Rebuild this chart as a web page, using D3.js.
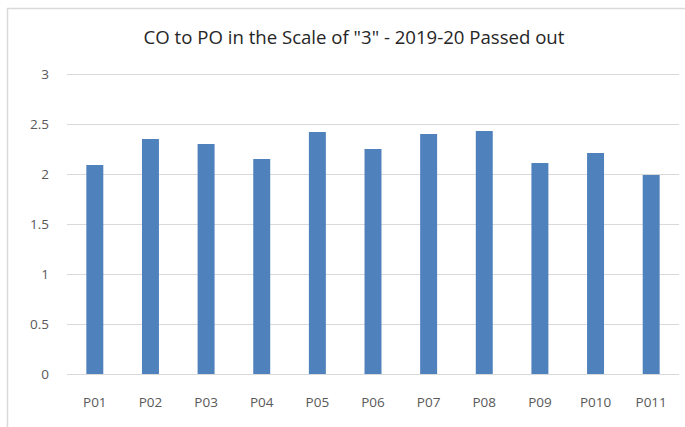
<!DOCTYPE html>
<html>
<head>
<meta charset="utf-8">
<script src="https://cdn.jsdelivr.net/npm/d3@7"></script>
<style>
  body { margin: 0; background: #fff; }
  svg { display: block; font-family: "Open Sans", "Noto Sans", sans-serif; }
</style>
</head>
<body>
<svg width="685" height="427"></svg>
<script>
  // data
  const categories = ['P01', 'P02', 'P03', 'P04', 'P05', 'P06', 'P07', 'P08', 'P09', 'P010', 'P011'];
  const values = [2.09, 2.35, 2.30, 2.15, 2.42, 2.25, 2.40, 2.43, 2.11, 2.21, 1.99];
  const yTicks = [0, 0.5, 1, 1.5, 2, 2.5, 3];
  const title = 'CO to PO in the Scale of "3" - 2019-20 Passed out';

  const svg = d3.select('svg');
  const margin = { top: 74, right: 6, bottom: 53, left: 67 };
  const width = 685 - margin.left - margin.right;
  const height = 427 - margin.top - margin.bottom;

  // chart frame (top and left edges visible)
  svg.append('path')
    .attr('d', 'M7.5,427 V8.5 H685')
    .attr('fill', 'none')
    .attr('stroke', '#d9d9d9')
    .attr('stroke-width', 1.5);

  svg.append('text')
    .attr('x', 354)
    .attr('y', 44)
    .attr('text-anchor', 'middle')
    .attr('font-size', 18.6)
    .attr('fill', '#262626')
    .text(title);

  const g = svg.append('g')
    .attr('transform', `translate(${margin.left},${margin.top})`);

  const x = d3.scaleBand()
    .domain(categories)
    .range([0, width])
    .paddingInner(0.695)
    .paddingOuter(0.3475);

  const y = d3.scaleLinear()
    .domain([0, 3])
    .range([height, 0]);

  // gridlines
  g.selectAll('.grid').data(yTicks)
    .enter().append('line')
      .attr('class', 'grid')
      .attr('x1', 0)
      .attr('x2', width)
      .attr('y1', d => Math.round(y(d)) + 0.5)
      .attr('y2', d => Math.round(y(d)) + 0.5)
      .attr('stroke', '#d9d9d9')
      .attr('stroke-width', 1);

  // y tick labels
  g.selectAll('.ylab').data(yTicks)
    .enter().append('text')
      .attr('class', 'ylab')
      .attr('x', -18)
      .attr('y', d => y(d))
      .attr('dy', '0.35em')
      .attr('text-anchor', 'end')
      .attr('font-size', 13.5)
      .attr('fill', '#595959')
      .text(d => d);

  // bars
  g.selectAll('.bar').data(values)
    .enter().append('rect')
      .attr('class', 'bar')
      .attr('x', (d, i) => x(categories[i]))
      .attr('width', x.bandwidth())
      .attr('y', d => y(d))
      .attr('height', d => y(0) - y(d))
      .attr('fill', '#4f81bd');

  // x labels
  g.selectAll('.xlab').data(categories)
    .enter().append('text')
      .attr('class', 'xlab')
      .attr('x', d => x(d) + x.bandwidth() / 2)
      .attr('y', height + 28)
      .attr('dy', '0.35em')
      .attr('text-anchor', 'middle')
      .attr('font-size', 13.5)
      .attr('fill', '#595959')
      .text(d => d);
</script>
</body>
</html>
